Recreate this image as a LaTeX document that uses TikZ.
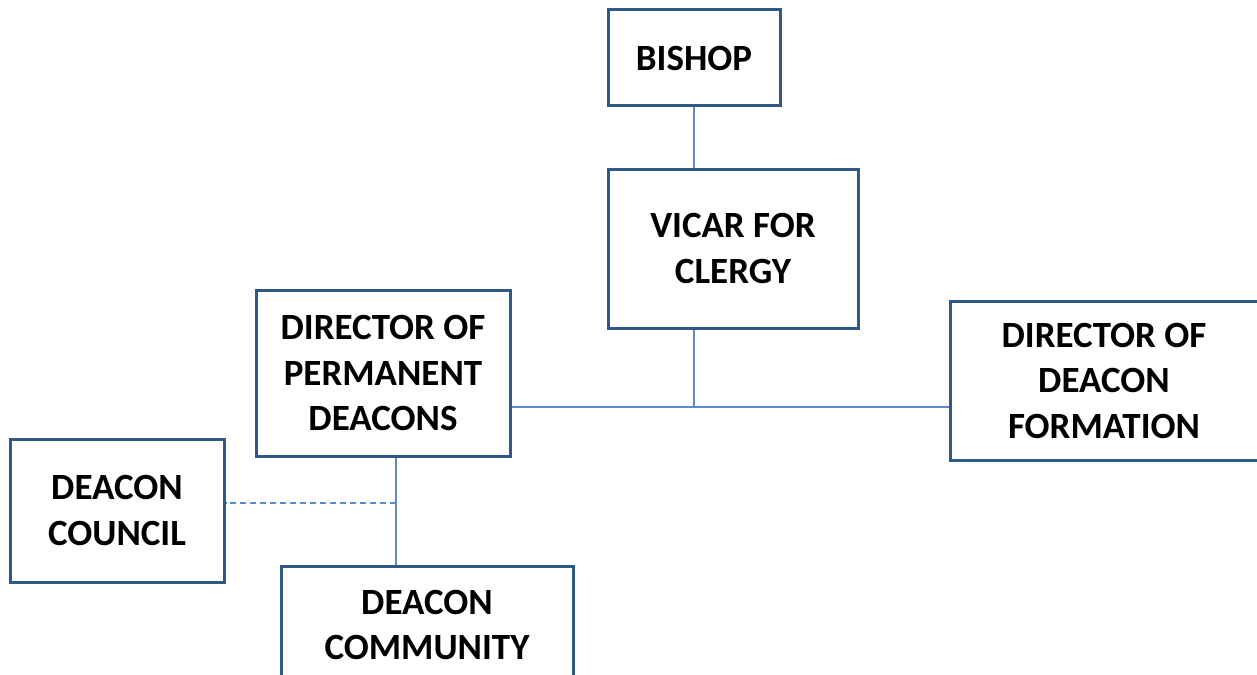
\documentclass[tikz,border=0pt]{standalone}
\usepackage{fontspec}
\setmainfont{Carlito}
\definecolor{boxblue}{HTML}{2F5A87}
\definecolor{linkblue}{HTML}{5B8CC8}
\begin{document}
\begin{tikzpicture}[x=1pt,y=-1pt,
  box/.style={draw=boxblue, line width=3pt, fill=white, inner sep=0pt,
    align=center, font=\fontsize{37}{45.5}\selectfont\bfseries},
  link/.style={draw=linkblue, line width=1.1pt},
  dlink/.style={link, dash pattern=on 6pt off 4pt}]
\useasboundingbox (0,0) rectangle (1257,674);
\clip (0,0) rectangle (1257,674);
\fill[white] (0,0) rectangle (1257,674);
\coordinate (j) at (694,407);
\coordinate (k) at (396,503);
\node[box, minimum width=172pt, minimum height=96pt] (bishop) at (694,58) {BISHOP};
\node[box, minimum width=250pt, minimum height=159pt] (vicar) at (733,248.5) {VICAR FOR\\CLERGY};
\node[box, minimum width=254pt, minimum height=166pt] (dpd) at (383,373) {DIRECTOR OF\\PERMANENT\\DEACONS};
\node[box, minimum width=308pt, minimum height=159pt] (ddf) at (1104,380.5) {DIRECTOR OF\\DEACON\\FORMATION};
\node[box, minimum width=214pt, minimum height=143pt] (council) at (117,510.5) {DEACON\\COUNCIL};
\node[box, minimum width=292pt, minimum height=118pt] (comm) at (427,625) {DEACON\\COMMUNITY};
\draw[link] (bishop.south) -- (vicar.north -| bishop.south);
\draw[link] (vicar.south -| j) -- (j);
\draw[link] (dpd.east |- j) -- (ddf.west |- j);
\draw[link] (dpd.south -| k) -- (comm.north -| k);
\draw[dlink] (k) -- (council.east |- k);
\end{tikzpicture}
\end{document}
